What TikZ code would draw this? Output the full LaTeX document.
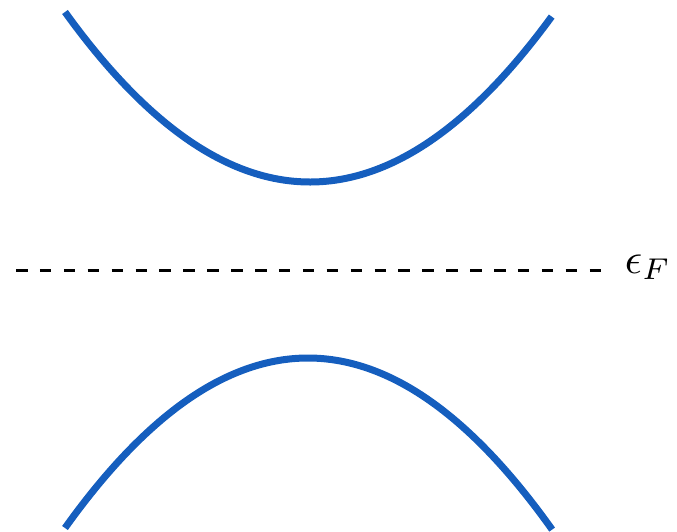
\documentclass[tikz,border=0pt]{standalone}
\begin{document}
\begin{tikzpicture}[x=1pt,y=-1pt,
  band/.style={line width=7pt, color=bandblue},
  fermi/.style={line width=3.6pt, dash pattern=on 11.5pt off 12.4pt}]
\definecolor{bandblue}{RGB}{21,94,190}
\useasboundingbox (0,0) rectangle (677,531);
\draw[band] plot[domain=-1:0.988, samples=120, smooth] ({310+245*\x}, {182-170*\x*\x});
\draw[band] plot[domain=-1:1.005, samples=120, smooth] ({308+243*\x}, {358+170*\x*\x});
\coordinate (fl) at (16,270.3);
\coordinate (fr) at (602,270.3);
\draw[fermi] (fl) -- (fr);
\node[anchor=base west, inner sep=0pt, scale=4.3] (ef) at (624,273.5) {$\epsilon_F$};
\end{tikzpicture}
\end{document}
